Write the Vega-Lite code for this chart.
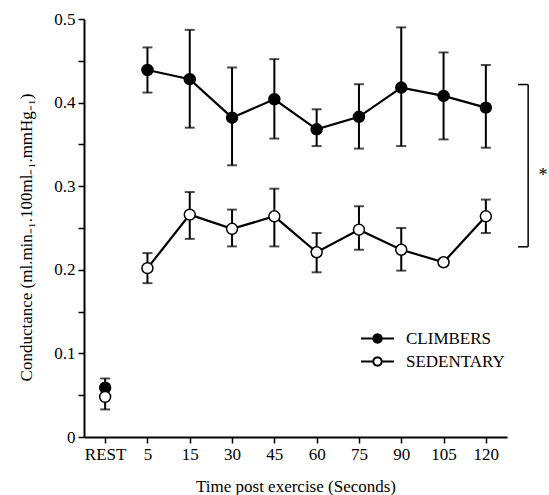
{
  "$schema": "https://vega.github.io/schema/vega-lite/v6.json",
  "autosize": "none",
  "padding": {"left": 84, "top": 19, "right": 42, "bottom": 58},
  "width": 423,
  "height": 418,
  "config": {
    "view": {"stroke": null},
    "font": "Liberation Serif",
    "axis": {
      "domainColor": "black", "domainWidth": 2, "tickColor": "black", "tickWidth": 1.5,
      "tickSize": 6, "labelColor": "black", "labelFont": "Liberation Serif", "labelFontSize": 17,
      "titleFont": "Liberation Serif", "titleFontSize": 17, "titleFontWeight": "normal", "titleColor": "black",
      "grid": false
    }
  },
  "datasets": {
    "main": [
      {"time": "REST", "group": "CLIMBERS", "mean": 0.059, "lo": 0.052, "hi": 0.070},
      {"time": "5", "group": "CLIMBERS", "mean": 0.439, "lo": 0.412, "hi": 0.466},
      {"time": "15", "group": "CLIMBERS", "mean": 0.428, "lo": 0.370, "hi": 0.487},
      {"time": "30", "group": "CLIMBERS", "mean": 0.382, "lo": 0.325, "hi": 0.442},
      {"time": "45", "group": "CLIMBERS", "mean": 0.404, "lo": 0.357, "hi": 0.452},
      {"time": "60", "group": "CLIMBERS", "mean": 0.368, "lo": 0.348, "hi": 0.392},
      {"time": "75", "group": "CLIMBERS", "mean": 0.383, "lo": 0.345, "hi": 0.422},
      {"time": "90", "group": "CLIMBERS", "mean": 0.418, "lo": 0.348, "hi": 0.490},
      {"time": "105", "group": "CLIMBERS", "mean": 0.408, "lo": 0.356, "hi": 0.460},
      {"time": "120", "group": "CLIMBERS", "mean": 0.394, "lo": 0.346, "hi": 0.445},
      {"time": "REST", "group": "SEDENTARY", "mean": 0.048, "lo": 0.033, "hi": 0.056},
      {"time": "5", "group": "SEDENTARY", "mean": 0.202, "lo": 0.184, "hi": 0.220},
      {"time": "15", "group": "SEDENTARY", "mean": 0.266, "lo": 0.237, "hi": 0.293},
      {"time": "30", "group": "SEDENTARY", "mean": 0.249, "lo": 0.228, "hi": 0.272},
      {"time": "45", "group": "SEDENTARY", "mean": 0.264, "lo": 0.228, "hi": 0.297},
      {"time": "60", "group": "SEDENTARY", "mean": 0.221, "lo": 0.197, "hi": 0.244},
      {"time": "75", "group": "SEDENTARY", "mean": 0.248, "lo": 0.224, "hi": 0.276},
      {"time": "90", "group": "SEDENTARY", "mean": 0.224, "lo": 0.199, "hi": 0.250},
      {"time": "105", "group": "SEDENTARY", "mean": 0.209, "lo": 0.206, "hi": 0.213},
      {"time": "120", "group": "SEDENTARY", "mean": 0.264, "lo": 0.244, "hi": 0.284}
    ],
    "bracket": [
      {"bx": 10.5, "bx2": 10.5, "by": 0.2275, "by2": 0.4216},
      {"bx": 10.26, "bx2": 10.5, "by": 0.4216, "by2": 0.4216},
      {"bx": 10.26, "bx2": 10.5, "by": 0.2275, "by2": 0.2275}
    ],
    "star": [{"bx": 10.85, "by": 0.312, "label": "*"}]
  },
  "resolve": {"scale": {"x": "independent"}},
  "layer": [
    {
      "data": {"name": "main"},
      "encoding": {
        "x": {
          "field": "time", "type": "ordinal",
          "sort": ["REST", "5", "15", "30", "45", "60", "75", "90", "105", "120"],
          "scale": {"type": "point", "padding": 0.5},
          "axis": {"title": "Time post exercise (Seconds)", "labelAngle": 0, "labelPadding": 3, "titlePadding": 16}
        },
        "y": {
          "field": "mean", "type": "quantitative",
          "scale": {"domain": [0, 0.5], "nice": false},
          "axis": {
            "title": "Conductance (ml.min₋₁.100ml₋₁.mmHg₋₁)",
            "values": [0, 0.025, 0.05, 0.075, 0.1, 0.125, 0.15, 0.175, 0.2, 0.225, 0.25, 0.275, 0.3, 0.325, 0.35, 0.375, 0.4, 0.425, 0.45, 0.475, 0.5],
            "labelExpr": "datum.value == 0 ? '0' : (abs(round(datum.value*10) - datum.value*10) < 0.001 ? format(datum.value, '.1f') : '')",
            "labelPadding": 3, "titlePadding": 18, "titleY": 218
          }
        }
      },
      "layer": [
        {
          "transform": [{"filter": "datum.time != 'REST'"}],
          "mark": {"type": "line", "color": "black", "strokeWidth": 2.2},
          "encoding": {"detail": {"field": "group"}}
        },
        {
          "mark": {"type": "rule", "color": "black", "strokeWidth": 2},
          "encoding": {"y": {"field": "lo", "type": "quantitative"}, "y2": {"field": "hi"}}
        },
        {
          "mark": {"type": "tick", "color": "black", "orient": "horizontal", "size": 10, "thickness": 2},
          "encoding": {"y": {"field": "lo", "type": "quantitative"}}
        },
        {
          "mark": {"type": "tick", "color": "black", "orient": "horizontal", "size": 10, "thickness": 2},
          "encoding": {"y": {"field": "hi", "type": "quantitative"}}
        },
        {
          "mark": {"type": "point", "filled": false, "stroke": "black", "strokeWidth": 1.5, "size": 120, "opacity": 1},
          "encoding": {
            "fill": {
              "field": "group", "type": "nominal",
              "scale": {"domain": ["CLIMBERS", "SEDENTARY"], "range": ["black", "white"]},
              "legend": {
                "title": null, "orient": "none", "legendX": 276, "legendY": 308,
                "symbolType": "M-1,0H-0.26M0.26,0H1M0.26,0L0.225,0.13L0.13,0.225L0,0.26L-0.13,0.225L-0.225,0.13L-0.26,0L-0.225,-0.13L-0.13,-0.225L0,-0.26L0.13,-0.225L0.225,-0.13Z",
                "symbolSize": 1089, "symbolStrokeColor": "black", "symbolStrokeWidth": 2,
                "labelFont": "Liberation Serif", "labelFontSize": 17, "labelColor": "black",
                "labelOffset": 11, "clipHeight": 23, "rowPadding": 0, "padding": 0,
                "encode": {
                  "symbols": {
                    "shape": {"value": "M-1,0H-0.26M0.26,0H1M0.26,0L0.225,0.13L0.13,0.225L0,0.26L-0.13,0.225L-0.225,0.13L-0.26,0L-0.225,-0.13L-0.13,-0.225L0,-0.26L0.13,-0.225L0.225,-0.13Z"},
                    "size": {"value": 1089},
                    "strokeWidth": {"value": 2}
                  }
                }
              }
            }
          }
        }
      ]
    },
    {
      "data": {"name": "bracket"},
      "mark": {"type": "rule", "color": "black", "strokeWidth": 1.5},
      "encoding": {
        "x": {"field": "bx", "type": "quantitative", "scale": {"domain": [0, 10], "nice": false, "zero": false}, "axis": null},
        "x2": {"field": "bx2"},
        "y": {"field": "by", "type": "quantitative"},
        "y2": {"field": "by2"}
      }
    },
    {
      "data": {"name": "star"},
      "mark": {"type": "text", "font": "Liberation Serif", "fontSize": 18, "color": "black"},
      "encoding": {
        "x": {"field": "bx", "type": "quantitative", "scale": {"domain": [0, 10], "nice": false, "zero": false}, "axis": null},
        "y": {"field": "by", "type": "quantitative"},
        "text": {"field": "label"}
      }
    }
  ]
}
